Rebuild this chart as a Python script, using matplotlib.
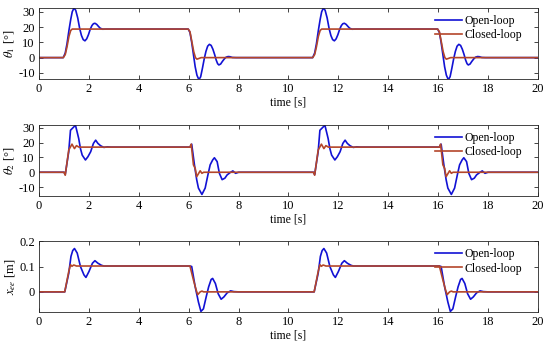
import numpy as np
import matplotlib
matplotlib.use("Agg")
import matplotlib.pyplot as plt

plt.rcParams['font.family'] = ['Liberation Serif', 'DejaVu Serif']
plt.rcParams['mathtext.fontset'] = 'stix'
plt.rcParams['axes.unicode_minus'] = False

# one switching cycle (0-10 s); the second cycle (10-20 s) repeats it
# theta_1 [deg]
t1_ol = [0, 0.97, 1.05, 1.12, 1.2, 1.27, 1.33, 1.4, 1.47, 1.55, 1.63, 1.7, 1.77, 1.84,
         1.91, 1.98, 2.05, 2.12, 2.18, 2.24, 2.31, 2.38, 2.45, 2.55, 2.7, 5.98, 6.05,
         6.12, 6.19, 6.26, 6.33, 6.41, 6.48, 6.55, 6.62, 6.69, 6.76, 6.83, 6.9, 6.97,
         7.04, 7.1, 7.16, 7.21, 7.28, 7.35, 7.43, 7.5, 7.58, 7.65, 7.75, 7.9, 10]
th1_ol = [0, 0, 3, 9, 18, 25, 30, 32.5, 31, 26, 19, 14.5, 11.8, 11,
          12.3, 15, 18.5, 21, 22.2, 22.5, 21.8, 20.5, 19.3, 18.6, 18.7, 18.7, 16.5,
          10, 2, -6, -11.5, -14.5, -12.5, -7, -1, 4, 7.5, 8.7, 8, 5.5,
          2, -1.5, -4, -4.8, -4.2, -2.5, -0.8, 0.3, 0.7, 0.6, 0.1, 0, 0]
t1_cl = [0, 0.97, 1.05, 1.12, 1.2, 1.27, 1.33, 5.98, 6.05, 6.12, 6.2, 6.27, 6.33, 6.4, 6.5, 10]
th1_cl = [0, 0, 2, 7, 14, 17.8, 18.7, 18.7, 17, 11, 4, 0, -1, -0.6, 0, 0]

# theta_2 [deg]
t2_ol = [0, 1.0, 1.05, 1.19, 1.26, 1.39, 1.46, 1.53, 1.59, 1.66, 1.73, 1.86, 1.96, 2.07,
         2.18, 2.27, 2.36, 2.47, 2.6, 2.74, 2.88, 6.05, 6.12, 6.23, 6.32, 6.39, 6.53,
         6.66, 6.77, 6.86, 6.96, 7.03, 7.14, 7.23, 7.34, 7.45, 7.54, 7.68, 7.77, 7.88,
         8.0, 10]
th2_ol = [0, 0, -1.5, 13.9, 28.4, 30.6, 31.8, 27, 22.8, 16, 11.6, 8.3, 10.5, 13.9,
          19.5, 21.7, 19.5, 17.9, 16.8, 17.2, 17, 17, 19, 5, -5, -10.7, -15,
          -10.7, -1.8, 5, 8.3, 9.8, 7.2, -0.7, -5, -4, -1.8, 0, 0.9, -0.7,
          0, 0]
t2_cl = [0, 1.0, 1.05, 1.19, 1.32, 1.42, 1.5, 1.6, 6.05, 6.1, 6.19, 6.26, 6.32, 6.46,
         6.53, 6.6, 10]
th2_cl = [0, 0, -2, 15, 19, 16, 18, 17, 17, 19, 5, 2.7, -3, 1,
          -0.7, 0, 0]

# x_ee [m]
t3_ol = [0, 1.03, 1.19, 1.28, 1.35, 1.42, 1.53, 1.66, 1.8, 1.88, 2.0, 2.14, 2.24,
         2.36, 2.5, 2.6, 6.05, 6.12, 6.26, 6.39, 6.49, 6.59, 6.7, 6.8, 6.9, 6.96,
         7.07, 7.18, 7.3, 7.41, 7.54, 7.68, 7.81, 8.0, 10]
x_ol = [0, 0, 0.073, 0.14, 0.163, 0.171, 0.153, 0.1, 0.067, 0.057, 0.08, 0.113, 0.123,
        0.113, 0.105, 0.102, 0.102, 0.1, 0.02, -0.04, -0.077, -0.067, -0.02, 0.02, 0.049, 0.053,
        0.033, -0.007, -0.029, -0.02, -0.004, 0.004, 0.001, 0, 0]
t3_cl = [0, 1.03, 1.19, 1.26, 1.32, 1.39, 1.5, 6.05, 6.19, 6.3, 6.36, 6.46, 6.53, 6.6, 10]
x_cl = [0, 0, 0.08, 0.107, 0.101, 0.106, 0.102, 0.102, 0.047, 0.007, -0.011, 0, 0.003, 0, 0]

ylabels = [r'$\theta_1$ [°]', r'$\theta_2$ [°]', r'$x_{ee}$ [m]']
ylims = [(-14, 32.5), (-16, 32), (-0.08, 0.2)]
yticks = [[-10, 0, 10, 20, 30], [-10, 0, 10, 20, 30], [0, 0.1, 0.2]]
ytlabels = [['-10', '0', '10', '20', '30'], ['-10', '0', '10', '20', '30'], ['0', '0.1', '0.2']]

series = [(t1_ol, th1_ol, t1_cl, th1_cl),
          (t2_ol, th2_ol, t2_cl, th2_cl),
          (t3_ol, x_ol, t3_cl, x_cl)]

def two_cycles(t, y):
    t = np.asarray(t, float)
    y = np.asarray(y, float)
    return np.concatenate([t, t + 10]), np.concatenate([y, y])

fig = plt.figure(figsize=(5.5, 3.48), dpi=100)
bottoms = [0.773, 0.437, 0.103]
blue = '#1212d4'
red = '#b4462a'
edge = '#262626'

for i in range(3):
    ax = fig.add_axes([0.071, bottoms[i], 0.907, 0.204])
    to, yo, tc, yc = series[i]
    ax.plot(*two_cycles(to, yo), color=blue, lw=1.2, label='Open-loop')
    ax.plot(*two_cycles(tc, yc), color=red, lw=1.2, label='Closed-loop')
    ax.set_xlim(0, 20)
    ax.set_ylim(*ylims[i])
    ax.set_xticks(range(0, 21, 2))
    ax.set_yticks(yticks[i])
    ax.set_yticklabels(ytlabels[i])
    ax.tick_params(direction='in', top=True, right=True, labelsize=9,
                   length=3, width=0.6, color=edge, pad=3)
    for s in ax.spines.values():
        s.set_linewidth(0.6)
        s.set_color(edge)
    ax.set_xlabel('time [s]', fontsize=8.5, labelpad=1)
    ax.set_ylabel(ylabels[i], fontsize=9, labelpad=1)
    ax.legend(loc='upper right', bbox_to_anchor=(0.968, 0.9), frameon=False,
              fontsize=8.5, handlelength=2.3, handletextpad=0.2, labelspacing=0.2,
              borderpad=0, borderaxespad=0)

fig.savefig('out.png', dpi=100)
